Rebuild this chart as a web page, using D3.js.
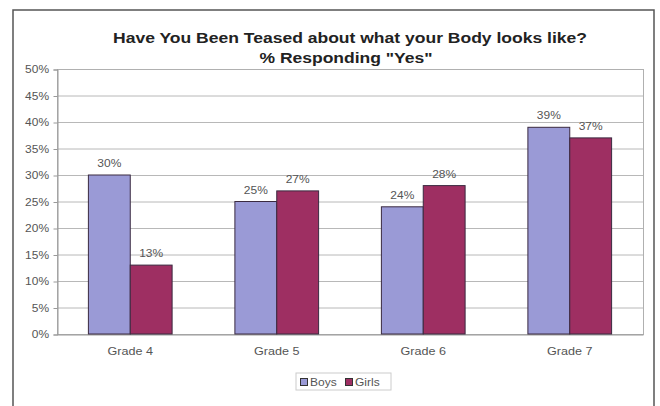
<!DOCTYPE html>
<html><head><meta charset="utf-8">
<script src="https://cdn.jsdelivr.net/npm/d3@7"></script>
<style>body{margin:0;background:#fff;}svg{display:block;font-family:"Liberation Sans",Arial,sans-serif;}</style>
</head><body>
<svg id="c" width="660" height="406"></svg>
<script>
const categories = ["Grade 4","Grade 5","Grade 6","Grade 7"];
const seriesNames = ["Boys","Girls"];
const boys = [30,25,24,39];
const girls = [13,27,28,37];
const yTicks = [0,5,10,15,20,25,30,35,40,45,50];
const colors = ["#9a9ad6","#9e2f62"];
const titleLines = ["Have You Been Teased about what your Body looks like?","% Responding \"Yes\""];

const SX = 1.2; // horizontal stretch seen in the reference text
const svg = d3.select("#c");
const m = {l:57, r:643, t:69, b:334};
svg.append("rect").attr("x",13).attr("y",10).attr("width",641).attr("height",410)
  .attr("fill","#fff").attr("stroke","#555").attr("stroke-width",1.5);

const x = d3.scaleBand().domain(categories).range([m.l,m.r]);
const inner = d3.scaleBand().domain(seriesNames).range([0,x.bandwidth()]).paddingInner(0).paddingOuter(0.75);
const y = d3.scaleLinear().domain([0,50]).range([m.b,m.t]);

// gridlines
svg.append("g").selectAll("line").data(yTicks).join("line")
  .attr("x1",m.l).attr("x2",m.r).attr("y1",d=>y(d)+0.5).attr("y2",d=>y(d)+0.5)
  .attr("stroke","#b8b8b8").attr("stroke-width",1);
svg.append("rect").attr("x",m.l+0.5).attr("y",m.t+0.5).attr("width",m.r-m.l).attr("height",m.b-m.t)
  .attr("fill","none").attr("stroke","#b0b0b0");

// y axis
const ya = svg.append("g").attr("transform",`translate(${m.l+0.5},0.5)`)
  .call(d3.axisLeft(y).tickValues(yTicks).tickFormat(d=>d+"%").tickSize(4).tickPadding(3));
ya.select(".domain").attr("stroke","#999");
ya.selectAll(".tick line").attr("stroke","#999");
ya.selectAll("text").attr("fill","#555").attr("font-size",10).attr("font-family","Liberation Sans, Arial, sans-serif")
  .attr("transform",`scale(${SX},1)`);

// x axis
const xa = svg.append("g").attr("transform",`translate(0,${m.b+0.5})`)
  .call(d3.axisBottom(x).tickSize(0).tickPadding(13));
xa.select(".domain").attr("stroke","#999");
xa.selectAll("text").attr("fill","#555").attr("font-size",10.5).attr("font-family","Liberation Sans, Arial, sans-serif")
  .attr("transform",`scale(${SX},1)`);

const data = categories.map((c,i)=>({c, vals:[{s:"Boys",v:boys[i],k:0},{s:"Girls",v:girls[i],k:1}]}));
const g = svg.append("g").selectAll("g").data(data).join("g").attr("transform",d=>`translate(${x(d.c)},0)`);
g.selectAll("rect").data(d=>d.vals).join("rect")
  .attr("x",d=>inner(d.s)).attr("width",inner.bandwidth())
  .attr("y",d=>y(d.v)).attr("height",d=>y(0)-y(d.v))
  .attr("fill",d=>colors[d.k]).attr("stroke","#3a2a40").attr("stroke-width",1);
g.selectAll("text").data(d=>d.vals).join("text")
  .attr("transform",d=>`translate(${inner(d.s)+inner.bandwidth()/2},${y(d.v)-8}) scale(${SX},1)`)
  .attr("text-anchor","middle").attr("font-size",10).attr("fill","#555")
  .text(d=>d.v+"%");

// title
const titleLen = [474,173];
svg.append("g").selectAll("text").data(titleLines).join("text")
  .attr("x",(d,i)=>i?346:350).attr("y",(d,i)=>43+i*20).attr("text-anchor","middle")
  .attr("textLength",(d,i)=>titleLen[i]).attr("lengthAdjust","spacingAndGlyphs")
  .attr("font-size",14).attr("font-weight","bold").attr("fill","#222").text(d=>d);

// legend
const lg = svg.append("g").attr("transform","translate(296,373)");
lg.append("rect").attr("width",95).attr("height",17).attr("fill","#fff").attr("stroke","#ccc");
const li = lg.selectAll("g").data(seriesNames).join("g").attr("transform",(d,i)=>`translate(${4+i*45},0)`);
li.append("rect").attr("x",0.5).attr("y",5.5).attr("width",7).attr("height",7)
  .attr("fill",(d,i)=>colors[i]).attr("stroke","#333");
li.append("text").attr("transform",`translate(10,12.5) scale(${SX},1)`).attr("font-size",10).attr("fill","#555").text(d=>d);
</script>
</body></html>
